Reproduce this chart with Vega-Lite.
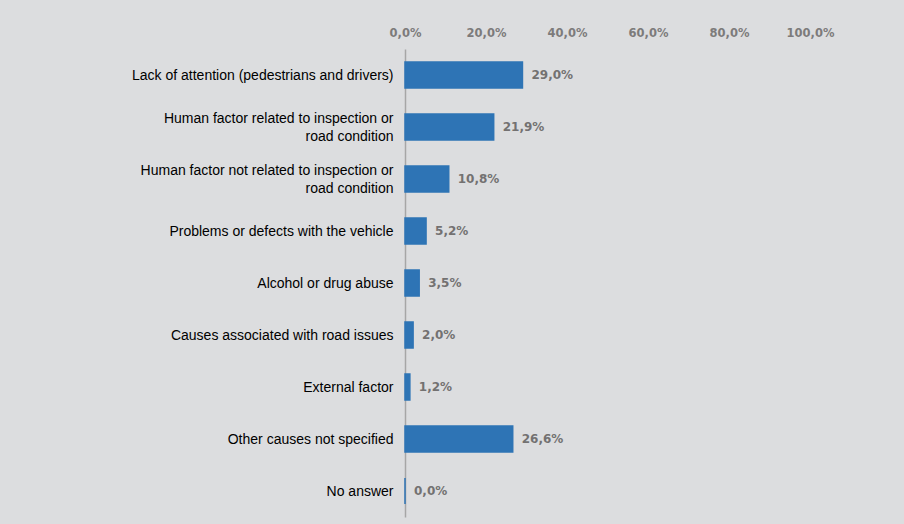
{
  "$schema": "https://vega.github.io/schema/vega-lite/v6.json",
  "autosize": "none",
  "width": 405,
  "height": 468,
  "padding": {"left": 405, "top": 49, "right": 94, "bottom": 7},
  "background": "#dcdddf",
  "config": {
    "locale": {"number": {"decimal": ",", "thousands": ".", "grouping": [3], "currency": ["", " €"]}},
    "view": {"stroke": null}
  },
  "data": {
    "values": [
      {"cause": "Lack of attention (pedestrians and drivers)", "order": 1, "share": 0.29},
      {"cause": "Human factor related to inspection or|road condition", "order": 2, "share": 0.219},
      {"cause": "Human factor  not related to inspection or|road condition", "order": 3, "share": 0.108},
      {"cause": "Problems or defects with the vehicle", "order": 4, "share": 0.052},
      {"cause": "Alcohol or drug abuse", "order": 5, "share": 0.035},
      {"cause": "Causes associated with road issues", "order": 6, "share": 0.02},
      {"cause": "External factor", "order": 7, "share": 0.012},
      {"cause": "Other causes not specified", "order": 8, "share": 0.266},
      {"cause": "No answer", "order": 9, "share": 0.0}
    ]
  },
  "encoding": {
    "y": {
      "field": "cause",
      "type": "nominal",
      "sort": {"field": "order"},
      "scale": {"paddingInner": 0.5, "paddingOuter": 0.25},
      "axis": {
        "title": null,
        "ticks": false,
        "domainColor": "#a6a6a6",
        "domainWidth": 1.5,
        "labelExpr": "split(datum.label, '|')",
        "labelFont": "Liberation Sans",
        "labelFontSize": 14,
        "labelColor": "#000000",
        "labelLineHeight": 18,
        "labelPadding": 12,
        "labelLimit": 400,
        "labelOffset": {"condition": {"test": "indexof(datum.value, '|') >= 0", "value": -8}, "value": 1}
      }
    },
    "x": {
      "field": "share",
      "type": "quantitative",
      "scale": {"domain": [0, 1]},
      "axis": {
        "orient": "top",
        "title": null,
        "values": [0, 0.2, 0.4, 0.6, 0.8, 1],
        "format": ".1%",
        "grid": false,
        "ticks": false,
        "domain": false,
        "labelFont": "DejaVu Sans",
        "labelFontWeight": "bold",
        "labelFontSize": 11.5,
        "labelColor": "#7d7b7b",
        "labelPadding": 11,
        "labelFlush": false
      }
    }
  },
  "layer": [
    {"mark": {"type": "bar", "color": "#2e74b5", "stroke": "#2e74b5", "strokeWidth": 1.5}},
    {
      "mark": {"type": "text", "align": "left", "dx": 9, "font": "DejaVu Sans", "fontWeight": "bold", "fontSize": 12, "color": "#737171"},
      "encoding": {"text": {"field": "share", "type": "quantitative", "format": ".1%"}}
    }
  ]
}
